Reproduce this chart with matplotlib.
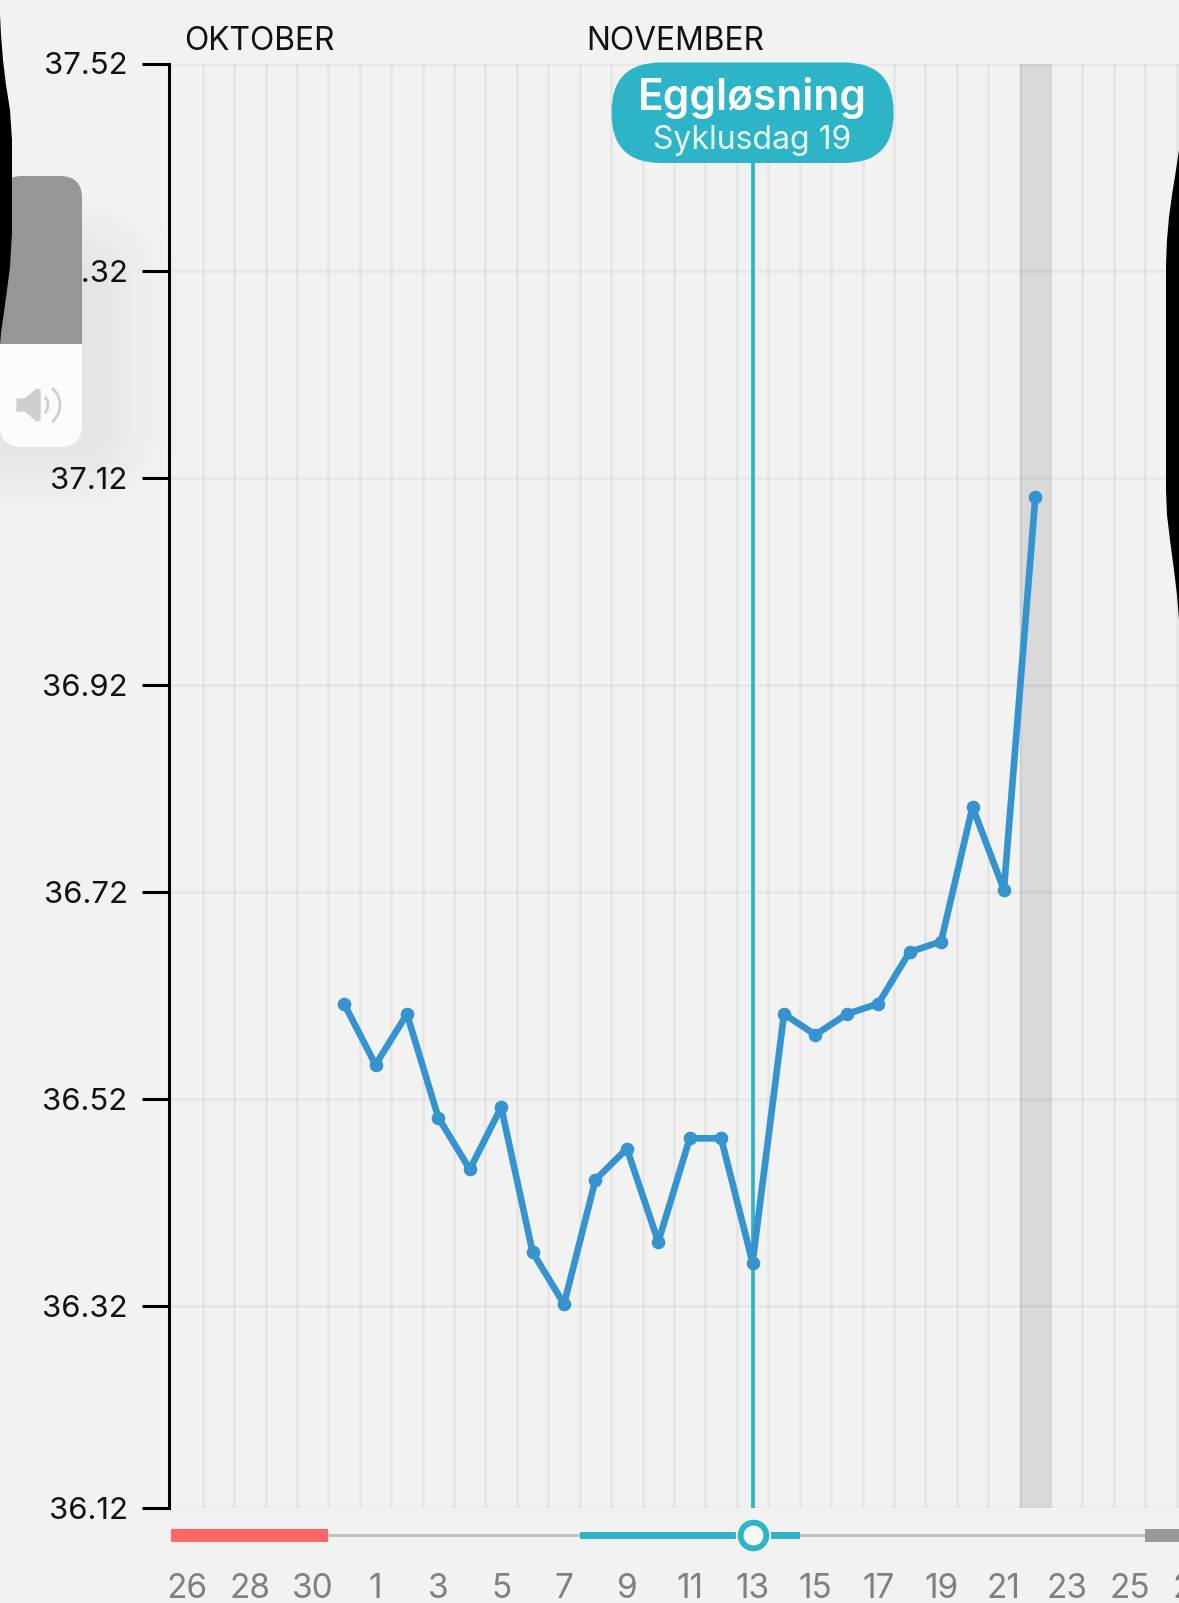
import numpy as np
import matplotlib
matplotlib.use("Agg")
import matplotlib.pyplot as plt
from matplotlib.patches import FancyBboxPatch, Polygon, Arc, Rectangle
from matplotlib.transforms import Bbox

plt.rcParams['font.family'] = ['Inter', 'DejaVu Sans']

W, H = 1179, 1603
BG = "#f2f2f2"
TEAL = "#2db4c6"
BLUE = "#3593cf"

# days on the x axis, 0 = 26 oktober
day_labels = [26, 27, 28, 29, 30, 31] + list(range(1, 31))
first_temp_day = 5
temps = [36.612, 36.553, 36.602, 36.502, 36.452, 36.512, 36.372, 36.322, 36.442, 36.472, 36.382, 36.482,
         36.482, 36.362, 36.602, 36.582, 36.602, 36.612, 36.662, 36.672, 36.802, 36.722, 37.101]
temp_ticks = [37.52, 37.32, 37.12, 36.92, 36.72, 36.52, 36.32, 36.125]
temp_labels = ["37.52", "37.32", "37.12", "36.92", "36.72", "36.52", "36.32", "36.12"]
months = [("OKTOBER", -0.08), ("NOVEMBER", 12.72)]
ovulation_day = 18
today = 27
period = (0, 5)
fertile = (13, 7)
next_period = (31, 6)

fig = plt.figure(figsize=(W / 100, H / 100), dpi=100, facecolor=BG)


def px_axes(left, top, right, bottom, **kw):
    return fig.add_axes([left / W, 1 - bottom / H, (right - left) / W, (bottom - top) / H], **kw)


# main chart, runs a bit past the right edge so the next label gets cut off
ax_left, ax_right, ax_top, ax_bottom = 168.7, 1240, 63.5, 1508
day0_x, day_w = 187, 31.42
ax = px_axes(ax_left, ax_top, ax_right, ax_bottom, facecolor=BG)
ax.set_ylim(temp_ticks[-1], temp_ticks[0])

ax.axvspan(today - 0.5, today + 0.5, color="#d9d9d9", lw=0, zorder=0.5)
ax.set_xticks(np.arange(len(day_labels))[::2])
ax.set_xticklabels(day_labels[::2])
ax.set_xticks(np.arange(len(day_labels)) + 0.5, minor=True)
ax.set_yticks(temp_ticks)
ax.set_yticklabels(temp_labels)
ax.grid(True, which="minor", axis="x", color="black", alpha=0.048, lw=2.2, zorder=1)
ax.grid(True, which="major", axis="y", color="black", alpha=0.042, lw=2.0, zorder=1)
ax.set_axisbelow(True)

ax.tick_params(axis="x", which="both", length=0)
ax.tick_params(axis="x", which="major", labelsize=24, labelcolor="#808080", pad=47)
ax.tick_params(axis="y", length=19.5, width=2.2, color="black", labelsize=22.4, labelcolor="#111111", pad=10)
for lab in ax.get_xticklabels():
    lab.set_clip_on(True)
    lab.set_clip_box(Bbox.from_extents(170, 0, W, H))

for s in ["top", "right", "bottom"]:
    ax.spines[s].set_visible(False)
ax.spines["left"].set_linewidth(2.2)
ax.spines["left"].set_capstyle("projecting")

ax.axvline(ovulation_day, color=TEAL, lw=2.7, zorder=2)
days = first_temp_day + np.arange(len(temps))
ax.plot(days, temps, color=BLUE, lw=4.8, marker="o", ms=8.8, solid_joinstyle="round", zorder=3, clip_on=False)

for name, x in months:
    ax.text(x, 1 + 22 / (ax_bottom - ax_top), name, transform=ax.get_xaxis_transform(), ha="left", va="center",
            fontsize=22.9, color="#111111", clip_on=False)

# cycle strip under the chart
strip = px_axes(ax_left, 1515, ax_right, 1560, sharex=ax)
strip.axis("off")
strip.set_ylim(1560, 1515)
strip.hlines(1535.5, period[0], 40, color="#c0c0c0", lw=2.2, zorder=1)
strip.broken_barh([(period[0] - 0.5, period[1])], (1529, 13), color="#ff6666", lw=0, zorder=2)
strip.broken_barh([(fertile[0] - 0.5, fertile[1])], (1532, 7), color=TEAL, lw=0, zorder=2)
strip.broken_barh([(next_period[0] - 0.5, next_period[1])], (1529, 13), color="#999999", lw=0, zorder=2)
strip.plot([ovulation_day], [1535.5], "o", ms=24.5, mfc=BG, mec=BG, zorder=3)
strip.plot([ovulation_day], [1535.5], "o", ms=18.5, mfc="#f8f8f8", mec=TEAL, mew=4.2, zorder=4)

# strip shares x with the chart, so the limits go last
ax.set_xlim((ax_left - day0_x) / day_w, (ax_right - day0_x) / day_w)

# overlay in image pixels: label bubble and the phone stuff on top of the screenshot
ov = px_axes(0, 0, W, H, facecolor="none", zorder=10)
ov.set_xlim(0, W)
ov.set_ylim(H, 0)
ov.axis("off")

bx = day0_x + ovulation_day * day_w
ov.add_patch(FancyBboxPatch((bx - 141 + 49.5, 62.5 + 49.5), 282 - 99, 100.5 - 99,
                            boxstyle="round,pad=49.5,rounding_size=49.5", fc=TEAL, ec="none"))
ov.text(bx, 98, "Eggløsning", color="white", fontsize=30.5, fontweight="semibold", ha="center", va="center")
ov.text(bx, 141, "Syklusdag 19", color="#eafafc", fontsize=23, ha="center", va="center")

# soft shadow round the volume box
yy, xx = np.mgrid[0:H, 0:W]
dx = np.maximum(xx - 82, 0)
dy = np.maximum(np.maximum(280 - yy, yy - 430), 0)
shadow = np.zeros((H, W, 4))
shadow[..., 3] = 0.055 * np.exp(-(dx ** 2 + dy ** 2) / (2 * 42.0 ** 2))
ov.imshow(shadow, extent=(0, W, H, 0), aspect="auto", zorder=0, interpolation="bilinear")
ov.set_xlim(0, W)
ov.set_ylim(H, 0)

box = FancyBboxPatch((22, 198), 38, 227, boxstyle="round,pad=22,rounding_size=22", fc="#fcfcfc", ec="none", zorder=1)
ov.add_patch(box)
grey = Rectangle((-5, 170), 100, 174, fc="#969696", ec="none", zorder=2)
ov.add_patch(grey)
grey.set_clip_path(box)

ov.add_patch(Polygon([(17, 399), (25, 399), (37, 389), (40, 390), (40, 420), (37, 421), (25, 411), (17, 411)],
                     fc="#cfcfcf", ec="#cfcfcf", lw=1, joinstyle="round", zorder=3))
ov.add_patch(Arc((38, 405), 20, 22, theta1=-50, theta2=50, ec="#cfcfcf", lw=2, zorder=3))
ov.add_patch(Arc((38, 405), 44, 44, theta1=-50, theta2=50, ec="#cfcfcf", lw=2, zorder=3))

# black phone edges
ov.add_patch(Polygon([(0, 15), (1, 35), (3, 60), (6, 85), (10, 110), (12, 140), (12, 232), (10, 267), (7, 290),
                      (4, 312), (1, 333), (0, 345)], fc="black", ec="none", zorder=4))
ov.add_patch(Polygon([(1179, 150), (1176, 170), (1172, 195), (1169, 217), (1167, 240), (1166, 265), (1166, 490),
                      (1167, 515), (1170, 540), (1174, 570), (1177, 595), (1179, 620)], fc="black", ec="none", zorder=4))

fig.savefig("out.png", dpi=100, facecolor=BG)
